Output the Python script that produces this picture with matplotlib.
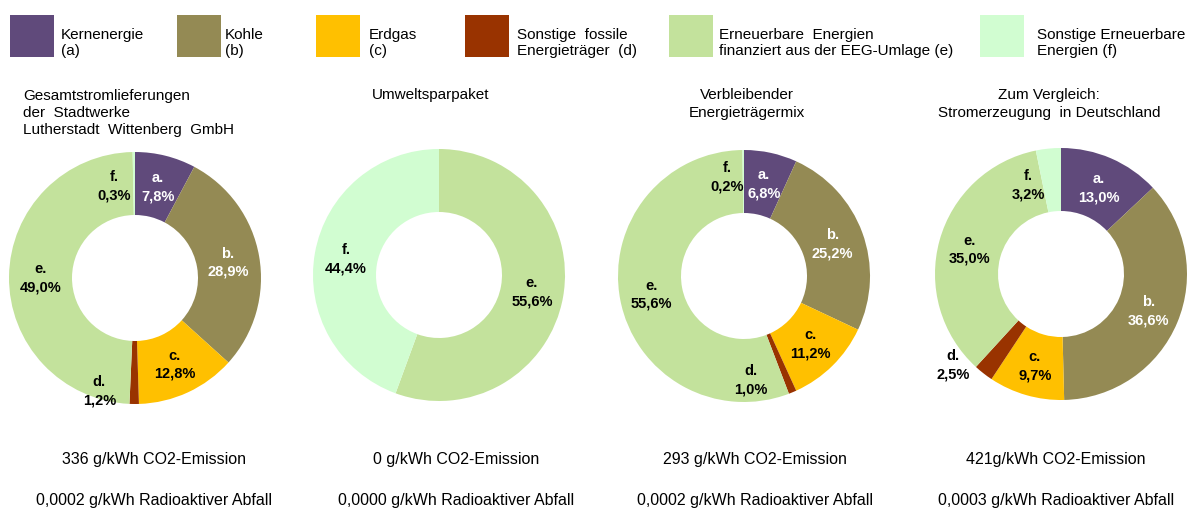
import numpy as np
import matplotlib
matplotlib.use("Agg")
import matplotlib.pyplot as plt
from matplotlib.patches import Rectangle

plt.rcParams['font.family'] = ['Liberation Sans', 'DejaVu Sans']

# data
letters = ['a', 'b', 'c', 'd', 'e', 'f']
legend_labels = ['Kernenergie\n(a)', 'Kohle\n(b)', 'Erdgas\n(c)',
                 'Sonstige  fossile\nEnergieträger  (d)',
                 'Erneuerbare  Energien\nfinanziert aus der EEG-Umlage (e)',
                 'Sonstige Erneuerbare\nEnergien (f)']
colors = ['#604A7B', '#948A54', '#FFC000', '#993300', '#C3E29C', '#D1FDD1']
label_colors = ['white', 'white', 'black', 'black', 'black', 'black']

titles = ['Gesamtstromlieferungen\nder  Stadtwerke\nLutherstadt  Wittenberg  GmbH',
          'Umweltsparpaket',
          'Verbleibender\nEnergieträgermix',
          'Zum Vergleich:\nStromerzeugung  in Deutschland']
gesamt = [7.8, 28.9, 12.8, 1.2, 49.0, 0.3]
umwelt = [0, 0, 0, 0, 55.6, 44.4]
verbleibend = [6.8, 25.2, 11.2, 1.0, 55.6, 0.2]
deutschland = [13.0, 36.6, 9.7, 2.5, 35.0, 3.2]
co2 = ['336 g/kWh CO2-Emission', '0 g/kWh CO2-Emission',
       '293 g/kWh CO2-Emission', '421g/kWh CO2-Emission']
abfall = ['0,0002 g/kWh Radioaktiver Abfall', '0,0000 g/kWh Radioaktiver Abfall',
          '0,0002 g/kWh Radioaktiver Abfall', '0,0003 g/kWh Radioaktiver Abfall']

# layout (pixel coords, y from top)
W, H = 1187, 510
centers = [(135, 279), (439, 276), (744, 277), (1061, 275)]
R = 126
title_pos = [(23, 113, 'left'), (431, 95, 'center'), (747, 104, 'center'), (1049, 104, 'center')]
text_x = [154, 456, 755, 1056]
# label nudges for small slices (d, f)
nudges = [{'d': (-35, 18), 'f': (-20, 2)},
          {},
          {'d': (-30, 16), 'f': (-16, -5)},
          {'d': (-50, 16), 'f': (-23, 4)}]
box_x = [10, 177, 316, 465, 669, 980]
text_lx = [61, 225, 369, 517, 719, 1037]

fig = plt.figure(figsize=(W / 100, H / 100), dpi=100)
ax = fig.add_axes([0, 0, 1, 1])

def fy(y):
    return H - y

for k, vals in enumerate([gesamt, umwelt, verbleibend, deutschland]):
    idx = [i for i, v in enumerate(vals) if v > 0]
    cx, cy = centers[k]
    wedges, _ = ax.pie([vals[i] for i in idx], colors=[colors[i] for i in idx],
                       center=(cx, fy(cy)), radius=R, startangle=90,
                       counterclock=False, frame=True,
                       wedgeprops=dict(width=R / 2, edgecolor='none'))
    for w, i in zip(wedges, idx):
        ang = np.deg2rad((w.theta1 + w.theta2) / 2)
        r = R * 0.75
        x = cx + r * np.cos(ang)
        y = fy(cy) + r * np.sin(ang)
        dx, dy = nudges[k].get(letters[i], (0, 0))
        txt = letters[i] + '.\n' + f"{vals[i]:.1f}".replace('.', ',') + '%'
        ax.text(x + dx, y - dy, txt, ha='center', va='center', fontsize=10.5,
                fontweight='bold', color=label_colors[i], linespacing=1.4)
    tx, ty, ha = title_pos[k]
    ax.text(tx, fy(ty), titles[k], ha=ha, va='center', fontsize=11,
            linespacing=1.3, multialignment=ha)
    ax.text(text_x[k], fy(460), co2[k], ha='center', va='center', fontsize=11.5)
    ax.text(text_x[k], fy(501), abfall[k], ha='center', va='center', fontsize=11.5)

# legend
for i in range(6):
    ax.add_patch(Rectangle((box_x[i], fy(58)), 44, 42, facecolor=colors[i],
                           edgecolor='none'))
    ax.text(text_lx[i], fy(43), legend_labels[i], ha='left', va='center',
            fontsize=11, linespacing=1.25)

ax.set_xlim(0, W)
ax.set_ylim(0, H)
ax.set_aspect('auto')
ax.axis('off')
fig.savefig('out.png', dpi=100)
